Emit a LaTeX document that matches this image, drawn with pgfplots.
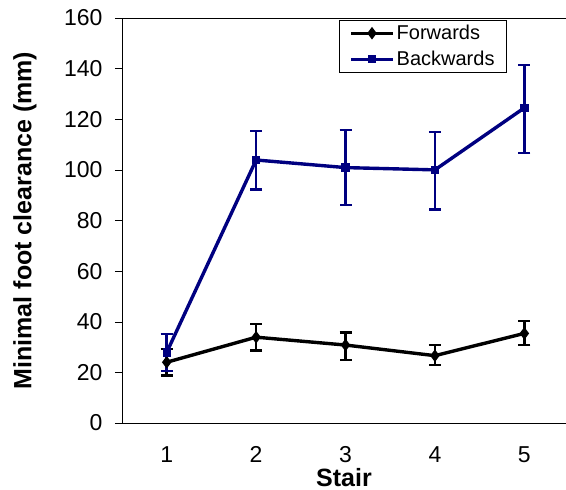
\documentclass[border=0pt]{standalone}
\usepackage{pgfplots}
\pgfplotsset{compat=1.18}
\usepackage{fontspec}
\setmainfont{Liberation Sans}
\definecolor{navyb}{RGB}{0,0,128}
\begin{document}
\begin{tikzpicture}[x=1pt,y=1pt]
\useasboundingbox (-122,-67) rectangle (444,423);
\begin{axis}[
  at={(0,0)}, anchor=south west,
  scale only axis,
  width=444pt, height=405pt,
  xmin=0.5, xmax=5.466,
  ymin=0, ymax=160,
  xtick={1,2,3,4,5},
  ytick={0,20,...,160},
  axis x line*=bottom,
  axis y line*=left,
  x axis line style={-},
  y axis line style={-},
  xtick style={draw=none},
  ytick style={black, thin},
  tick align=outside,
  major tick length=7pt,
  /pgf/number format/assume math mode=true,
  ticklabel style={font=\fontsize{23}{27}\selectfont},
  xticklabel style={yshift=-15pt, inner sep=1pt},
  yticklabel style={xshift=-9pt},
  extra y ticks={160},
  extra y tick labels={},
  extra y tick style={grid=major, major grid style={black, thin}, tick style={draw=none}},
  xlabel={\bfseries Stair},
  ylabel={\bfseries Minimal foot clearance (mm)},
  label style={font=\fontsize{25}{29}\selectfont},
  xlabel style={at={(axis description cs:0.5,-0.156)}, anchor=base, inner sep=0pt},
  ylabel style={at={(axis description cs:-0.2185,0.5)}, anchor=center, inner sep=0pt},
  legend style={at={(rel axis cs:0.489,0.995)}, anchor=north west, draw=black, thin,
    font=\fontsize{20}{24}\selectfont, inner xsep=10pt, inner ysep=3pt,
    row sep=6pt, legend cell align=left},
  legend image code/.code={\draw[mark repeat=2,mark phase=2,#1] plot coordinates {(0pt,0pt) (21pt,0pt) (42pt,0pt)};},
  clip=false,
]
\addplot+[black, line width=3.4pt, mark=diamond*, mark size=3.5pt,
  mark options={black, solid},
  /pgfplots/error bars/error bar style={/tikz/line width=2.6pt, black},
  error bars/.cd, y dir=both, y explicit,
  error mark options={rotate=90, mark size=6pt, line width=2.4pt, black}]
  coordinates {
  (1,24.0) +- (0,5.2)
  (2,33.9) += (0,5.2) -= (0,5.3)
  (3,30.8) += (0,5.0) -= (0,5.9)
  (4,26.6) += (0,4.2) -= (0,3.7)
  (5,35.4) += (0,4.8) -= (0,4.6)
  };
\addlegendentry{Forwards}
\addplot+[navyb, line width=3.4pt, mark=square*, mark size=2.5pt,
  mark options={navyb, solid},
  /pgfplots/error bars/error bar style={/tikz/line width=2.6pt, navyb},
  error bars/.cd, y dir=both, y explicit,
  error mark options={rotate=90, mark size=6pt, line width=2.4pt, navyb}]
  coordinates {
  (1,27.9) += (0,7.3) -= (0,7.4)
  (2,103.9) += (0,11.5) -= (0,11.6)
  (3,100.9) += (0,14.9) -= (0,14.8)
  (4,100.0) += (0,14.9) -= (0,15.6)
  (5,124.5) += (0,16.9) -= (0,17.9)
  };
\addlegendentry{Backwards}
\end{axis}
\end{tikzpicture}
\end{document}
